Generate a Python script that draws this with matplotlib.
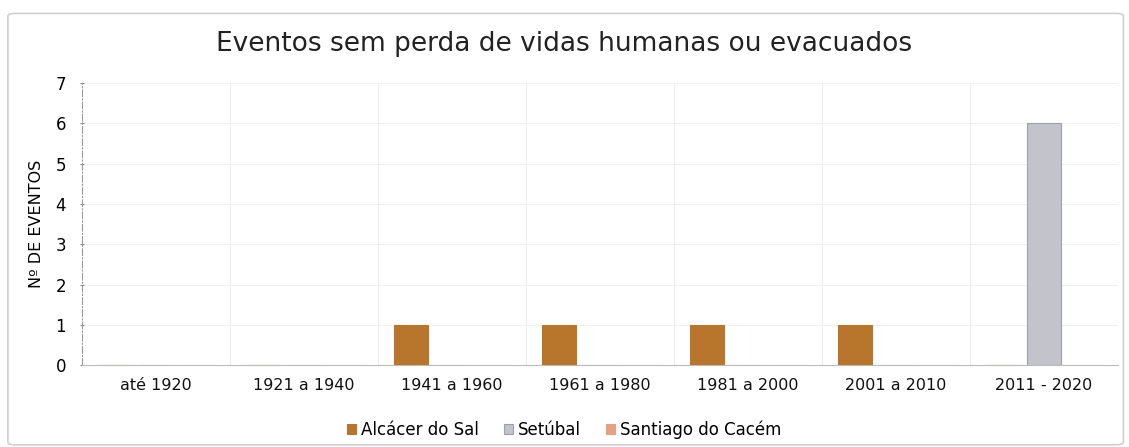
import matplotlib.pyplot as plt
import numpy as np
from matplotlib.patches import FancyBboxPatch

categorias = ['até 1920', '1921 a 1940', '1941 a 1960', '1961 a 1980',
              '1981 a 2000', '2001 a 2010', '2011 - 2020']
alcacer = [0, 0, 1, 1, 1, 1, 0]
setubal = [0, 0, 0, 0, 0, 0, 6]
santiago = [0, 0, 0, 0, 0, 0, 0]
series = ['Alcácer do Sal', 'Setúbal', 'Santiago do Cacém']
cores = ['#B8762C', '#C3C4CB', '#E3A283']

fig = plt.figure(figsize=(11.29, 4.47), dpi=100)
# moldura exterior
fig.patches.append(FancyBboxPatch((0.007, 0.005), 0.988, 0.965, boxstyle='round,pad=0,rounding_size=0.006',
                                  transform=fig.transFigure, fill=False, edgecolor='#D0D0D0', lw=1.2))
ax = fig.add_axes([0.0726, 0.183, 0.9175, 0.631])

x = np.arange(len(categorias))
w = 0.23
off = 0.277
for i, (vals, cor) in enumerate(zip([alcacer, setubal, santiago], cores)):
    ax.bar(x + (i - 1) * off, vals, w, color=cor, label=series[i],
           edgecolor='#A0A0A8' if i == 1 else cor, lw=0.8, zorder=3)

ax.set_xlim(-0.5, len(categorias) - 0.5)
ax.set_ylim(0, 7)
ax.set_yticks(range(8))
ax.set_xticks(x)
ax.set_xticklabels(categorias, fontsize=11.5, color='#111111')
ax.tick_params(axis='x', length=0, pad=9)
ax.tick_params(axis='y', length=3, direction='inout', color='#888888', labelsize=12, pad=10)
for xv in np.arange(0.5, len(categorias) - 0.5):
    ax.axvline(xv, color='#EDEDED', lw=0.8, zorder=0)
ax.yaxis.grid(True, color='#F0F0F0', lw=0.8, zorder=0)
for s in ['top', 'right']:
    ax.spines[s].set_visible(False)
ax.spines['left'].set_color('#999999')
ax.spines['left'].set_linestyle((0, (6, 2, 1, 2)))
ax.spines['left'].set_linewidth(0.8)
ax.spines['bottom'].set_color('#BBBBBB')
ax.set_ylabel('Nº DE EVENTOS', fontsize=11.5, labelpad=8)

fig.suptitle('Eventos sem perda de vidas humanas ou evacuados', fontsize=19, y=0.93, va='top', color='#222222')
fig.legend(loc='lower center', bbox_to_anchor=(0.5, -0.016), ncol=3, frameon=False, fontsize=12,
           handlelength=0.55, handleheight=0.55, handletextpad=0.3, columnspacing=1.5)

fig.savefig('out.png', dpi=100)
